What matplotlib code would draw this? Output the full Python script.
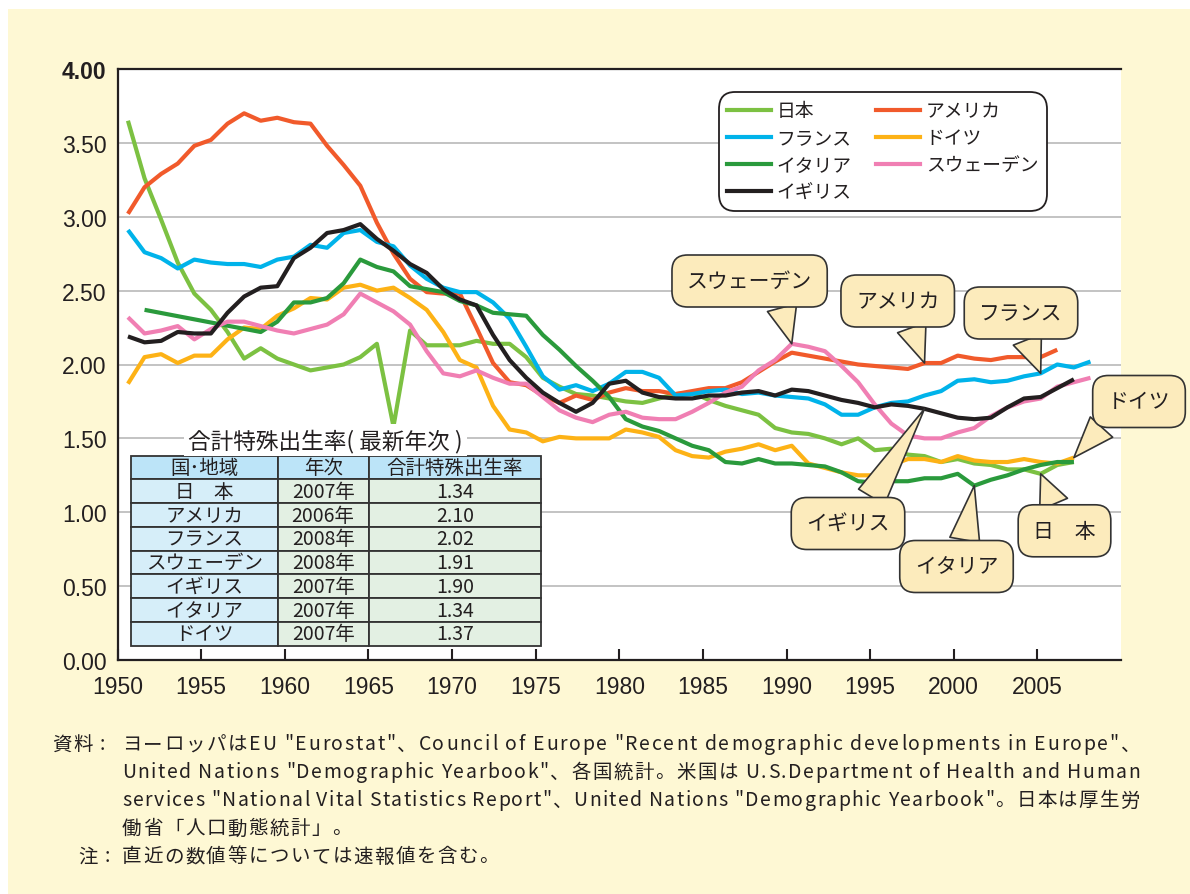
import matplotlib
matplotlib.use('Agg')
import matplotlib.pyplot as plt
import numpy as np
from matplotlib.lines import Line2D
from matplotlib.patches import Rectangle
from matplotlib.font_manager import FontProperties

plt.rcParams['font.family'] = ['Noto Sans CJK JP', 'DejaVu Sans']

# ---------------- data ----------------
years_japan = list(range(1950, 2008))
japan = [3.65, 3.26, 2.98, 2.69, 2.48, 2.37, 2.22, 2.04, 2.11, 2.04,
         2.00, 1.96, 1.98, 2.00, 2.05, 2.14, 1.58, 2.23, 2.13, 2.13,
         2.13, 2.16, 2.14, 2.14, 2.05, 1.91, 1.85, 1.80, 1.79, 1.77,
         1.75, 1.74, 1.77, 1.80, 1.81, 1.76, 1.72, 1.69, 1.66, 1.57,
         1.54, 1.53, 1.50, 1.46, 1.50, 1.42, 1.43, 1.39, 1.38, 1.34,
         1.36, 1.33, 1.32, 1.29, 1.29, 1.26, 1.32, 1.34]

years_usa = list(range(1950, 2007))
usa = [3.02, 3.20, 3.29, 3.36, 3.48, 3.52, 3.63, 3.70, 3.65, 3.67,
       3.64, 3.63, 3.48, 3.35, 3.21, 2.96, 2.75, 2.58, 2.49, 2.48,
       2.48, 2.25, 2.01, 1.88, 1.86, 1.79, 1.74, 1.79, 1.76, 1.81,
       1.84, 1.82, 1.82, 1.80, 1.82, 1.84, 1.84, 1.88, 1.95, 2.02,
       2.08, 2.06, 2.04, 2.02, 2.00, 1.99, 1.98, 1.97, 2.01, 2.01,
       2.06, 2.04, 2.03, 2.05, 2.05, 2.05, 2.10]

years_france = list(range(1950, 2009))
france = [2.91, 2.76, 2.72, 2.65, 2.71, 2.69, 2.68, 2.68, 2.66, 2.71,
          2.73, 2.81, 2.79, 2.89, 2.91, 2.83, 2.80, 2.67, 2.58, 2.52,
          2.49, 2.49, 2.42, 2.31, 2.12, 1.92, 1.83, 1.86, 1.82, 1.87,
          1.95, 1.95, 1.91, 1.79, 1.80, 1.82, 1.83, 1.80, 1.81, 1.79,
          1.78, 1.77, 1.73, 1.66, 1.66, 1.71, 1.74, 1.75, 1.79, 1.82,
          1.89, 1.90, 1.88, 1.89, 1.92, 1.94, 2.00, 1.98, 2.02]

years_germany = list(range(1950, 2008))
germany = [1.87, 2.05, 2.07, 2.01, 2.06, 2.06, 2.17, 2.25, 2.24, 2.33,
           2.38, 2.45, 2.44, 2.52, 2.54, 2.50, 2.52, 2.45, 2.37, 2.22,
           2.03, 1.98, 1.72, 1.56, 1.54, 1.48, 1.51, 1.50, 1.50, 1.50,
           1.56, 1.54, 1.51, 1.42, 1.38, 1.37, 1.41, 1.43, 1.46, 1.42,
           1.45, 1.33, 1.30, 1.27, 1.25, 1.25, 1.32, 1.36, 1.36, 1.34,
           1.38, 1.35, 1.34, 1.34, 1.36, 1.34, 1.33, 1.37]

years_italy = [1951] + list(range(1958, 2008))
italy = [2.37,
         2.22, 2.29,
         2.42, 2.42, 2.45, 2.55, 2.71, 2.66, 2.63, 2.53, 2.51, 2.49,
         2.43, 2.40, 2.35, 2.34, 2.33, 2.20, 2.10, 1.99, 1.89, 1.78,
         1.63, 1.58, 1.55, 1.50, 1.45, 1.42, 1.34, 1.33, 1.36, 1.33,
         1.33, 1.32, 1.31, 1.27, 1.21, 1.20, 1.21, 1.21, 1.23, 1.23,
         1.26, 1.18, 1.22, 1.25, 1.29, 1.32, 1.34, 1.34]

years_sweden = list(range(1950, 2009))
sweden = [2.32, 2.21, 2.23, 2.26, 2.17, 2.24, 2.29, 2.29, 2.26, 2.23,
          2.21, 2.24, 2.27, 2.34, 2.48, 2.42, 2.36, 2.27, 2.09, 1.94,
          1.92, 1.96, 1.91, 1.87, 1.87, 1.78, 1.69, 1.64, 1.61, 1.66,
          1.68, 1.64, 1.63, 1.63, 1.68, 1.74, 1.81, 1.85, 1.96, 2.03,
          2.14, 2.12, 2.09, 1.99, 1.88, 1.73, 1.60, 1.52, 1.50, 1.50,
          1.54, 1.57, 1.65, 1.71, 1.75, 1.77, 1.85, 1.88, 1.91]

years_uk = list(range(1950, 2008))
uk = [2.19, 2.15, 2.16, 2.22, 2.21, 2.21, 2.35, 2.46, 2.52, 2.53,
      2.72, 2.79, 2.89, 2.91, 2.95, 2.85, 2.77, 2.68, 2.62, 2.51,
      2.44, 2.40, 2.20, 2.03, 1.91, 1.81, 1.74, 1.68, 1.74, 1.87,
      1.89, 1.81, 1.78, 1.77, 1.77, 1.79, 1.79, 1.81, 1.82, 1.79,
      1.83, 1.82, 1.79, 1.76, 1.74, 1.71, 1.73, 1.72, 1.70, 1.67,
      1.64, 1.63, 1.64, 1.71, 1.77, 1.78, 1.84, 1.90]

series_names = ['日本', 'アメリカ', 'フランス', 'ドイツ', 'イタリア', 'スウェーデン', 'イギリス']

table_header = ['国･地域', '年次', '合計特殊出生率']
table_countries = ['日　本', 'アメリカ', 'フランス', 'スウェーデン', 'イギリス', 'イタリア', 'ドイツ']
table_years = ['2007年', '2006年', '2008年', '2008年', '2007年', '2007年', '2007年']
table_values = ['1.34', '2.10', '2.02', '1.91', '1.90', '1.34', '1.37']

yticks = [0.0, 0.5, 1.0, 1.5, 2.0, 2.5, 3.0, 3.5, 4.0]
xticks = [1950, 1955, 1960, 1965, 1970, 1975, 1980, 1985, 1990, 1995, 2000, 2005]

# ---------------- style ----------------
W, H = 1190, 895
BG = '#FEF8D4'
INK = '#231F20'
colors = {
    '日本': '#7CC142',
    'アメリカ': '#F15A2B',
    'フランス': '#00B3EA',
    'ドイツ': '#FDB216',
    'イタリア': '#2A9A3C',
    'スウェーデン': '#F07FB3',
    'イギリス': '#231F20',
}
CALLOUT_FC = '#FCEBBC'
LATIN = ['Liberation Sans', 'Noto Sans CJK JP']
CJK = ['Noto Sans CJK JP', 'DejaVu Sans']

fig = plt.figure(figsize=(W / 100, H / 100), dpi=100)
fig.patch.set_facecolor('white')
fig.add_artist(Rectangle((8 / W, 0), 1 - 8 / W, 1 - 10 / H, transform=fig.transFigure,
                         facecolor=BG, edgecolor='none', zorder=-10))

L, R, T, B = 117.5, 1121, 70, 661
rect = [L / W, 1 - B / H, (R - L) / W, (B - T) / H]
ax = fig.add_axes(rect)
ax.set_facecolor('white')
ax.set_xlim(1949.37, 2009.84)
ax.set_ylim(0, 4)

data = {
    '日本': (years_japan, japan),
    'アメリカ': (years_usa, usa),
    'フランス': (years_france, france),
    'ドイツ': (years_germany, germany),
    'イタリア': (years_italy, italy),
    'スウェーデン': (years_sweden, sweden),
    'イギリス': (years_uk, uk),
}
for i, name in enumerate(series_names):
    xs, ys = data[name]
    ax.plot(xs, ys, color=colors[name], lw=3.0, solid_joinstyle='round',
            solid_capstyle='butt', zorder=3 + i * 0.1)

ax.set_yticks(yticks)
ax.set_yticklabels(['%.2f' % v for v in yticks])
ax.set_xticks([])
ax.tick_params(axis='y', length=0, pad=8.0, labelsize=16.5, labelcolor=INK)
for lbl in ax.get_yticklabels():
    lbl.set_fontfamily(LATIN)
ax.get_yticklabels()[-1].set_fontweight('bold')
ax.yaxis.grid(True, color='#BEBEBE', lw=1.3)
ax.set_axisbelow(True)
for s in ['left', 'bottom', 'top']:
    ax.spines[s].set_color(INK)
    ax.spines[s].set_linewidth(1.6)
ax.spines['right'].set_visible(False)

# overlay axis for year labels
axx = fig.add_axes(rect, frameon=False)
axx.patch.set_alpha(0)
axx.set_xlim(1950, 2010)
axx.set_ylim(0, 4)
axx.set_xticks(xticks)
axx.set_xticklabels([str(x) for x in xticks])
axx.set_yticks([])
axx.tick_params(axis='x', direction='in', length=8, width=1.5, color=INK,
                pad=11, labelsize=16.5, labelcolor=INK)
for lbl in axx.get_xticklabels():
    lbl.set_fontfamily(LATIN)

# legend
order = ['日本', 'フランス', 'イタリア', 'イギリス', 'アメリカ', 'ドイツ', 'スウェーデン']
handles = [Line2D([], [], color=colors[n], lw=3.0) for n in order]
leg = axx.legend(handles, order, ncol=2, loc='upper left',
                 bbox_to_anchor=(718.6 / W, 1 - 92.7 / H), bbox_transform=fig.transFigure,
                 fontsize=13.5, frameon=True, fancybox=True, framealpha=1,
                 handlelength=2.35, handletextpad=0.3, columnspacing=1.3,
                 labelspacing=0.33, borderpad=0.45, borderaxespad=0)
fr = leg.get_frame()
fr.set_edgecolor(INK)
fr.set_linewidth(1.3)
fr.set_facecolor('white')
fr.set_boxstyle('round,pad=0,rounding_size=0.9')
for t in leg.get_texts():
    t.set_color(INK)

# callouts: (label, series, year, center px, relpos)
def fpx(px, py):
    return (px, H - py)

callouts = [
    ('スウェーデン', 'スウェーデン', 1990, (749.6, 282), (0.72, 0.12)),
    ('アメリカ', 'アメリカ', 1998, (897.7, 302), (0.59, 0.12)),
    ('フランス', 'フランス', 2005, (1021, 314), (0.49, 0.12)),
    ('イギリス', 'イギリス', 1998, (848, 524.5), (0.65, 0.88)),
    ('イタリア', 'イタリア', 2001, (956.5, 567.5), (0.56, 0.88)),
    ('日　本', '日本', 2005, (1064.5, 531.8), (0.45, 0.88)),
    ('ドイツ', 'ドイツ', 2007, (1139, 402.5), (0.15, 0.12)),
]
for label, sname, yr, (cx, cy), rp in callouts:
    xs, ys = data[sname]
    val = ys[xs.index(yr)]
    an = axx.annotate(label, xy=(yr, val), xycoords=ax.transData,
                      xytext=fpx(cx, cy), textcoords='figure pixels',
                      ha='center', va='center', fontsize=15, color=INK,
                      bbox=dict(boxstyle='round,pad=0.72,rounding_size=0.75',
                                fc=CALLOUT_FC, ec='#333333', lw=1.2),
                      arrowprops=dict(arrowstyle='wedge,tail_width=1.45',
                                      fc=CALLOUT_FC, ec='#333333', lw=1.2,
                                      shrinkA=0, shrinkB=0, relpos=rp),
                      annotation_clip=False, zorder=20)
    an.set_clip_on(False)

# table title
fig.text(325.5 / W, 1 - 441 / H, '合計特殊出生率( 最新年次 )', ha='center', va='center',
         fontsize=16.3, color=INK, bbox=dict(fc='white', ec='none', pad=3))

# table
tx0, tx1, ty0, ty1 = 130.7, 541, 456.7, 646.7
bbox = [(tx0 - L) / (R - L), (B - ty1) / (B - T), (tx1 - tx0) / (R - L), (ty1 - ty0) / (B - T)]
cell_text = [[c, y, v] for c, y, v in zip(table_countries, table_years, table_values)]
tbl = axx.table(cellText=cell_text, colLabels=table_header, cellLoc='center',
                colLoc='center', bbox=bbox, colWidths=[147, 91, 172.3])
tbl.auto_set_font_size(False)
tbl.set_zorder(6)
for (r, c), cell in tbl.get_celld().items():
    cell.set_edgecolor('#333333')
    cell.set_linewidth(1.3)
    if r == 0:
        cell.set_facecolor('#BCE4F8')
    elif c == 0:
        cell.set_facecolor('#D6EEF9')
    else:
        cell.set_facecolor('#E3F0E3')
    cell.get_text().set_fontsize(14)
    cell.get_text().set_color(INK)
    cell.get_text().set_fontfamily(CJK)

# footnotes (tracked / justified like the original)
fs = 14
renderer = fig.canvas.get_renderer()
fp = FontProperties(family=CJK, size=fs)


def tw(s):
    return renderer.get_text_width_height_descent(s, fp, ismath=False)[0] * 72.0 / fig.dpi * fig.dpi / 72.0


def advances(s):
    wx = tw('x')
    return [0.0] + [tw(s[:k] + 'x') - wx for k in range(1, len(s))]


def draw_tracked(y_px, s, x0, track):
    adv = advances(s)
    for k, ch in enumerate(s):
        if ch == ' ':
            continue
        fig.text((x0 + adv[k] + k * track) / W, 1 - y_px / H, ch, ha='left', va='center',
                 fontsize=fs, color=INK, family=CJK)


def track_for(s, x0, x1):
    return (x1 - x0 - tw(s)) / (len(s) - 1)


notes = [
    'ヨーロッパはEU "Eurostat"、Council of Europe "Recent demographic developments in Europe"、',
    'United Nations "Demographic Yearbook"、各国統計。米国は U.S.Department of Health and Human',
    'services "National Vital Statistics Report"、United Nations "Demographic Yearbook"。日本は厚生労',
    '働省「人口動態統計」。',
    '直近の数値等については速報値を含む。',
]
tracks = [track_for(notes[i], 122, 1140) for i in range(3)]
mean_track = float(np.mean(tracks))
for i, line in enumerate(notes):
    tr = tracks[i] if i < 3 else mean_track
    draw_tracked(745 + 28 * i, line, 122, tr)
draw_tracked(745, '資料 :', 52, mean_track)
draw_tracked(857, '注 :', 78, mean_track)

fig.savefig('out.png', dpi=100, facecolor=fig.get_facecolor())
